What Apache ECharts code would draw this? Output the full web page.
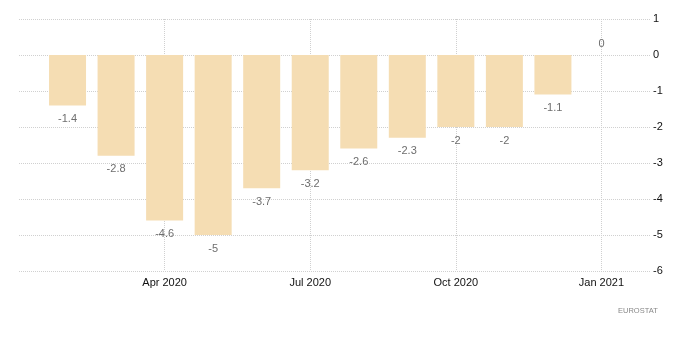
<!DOCTYPE html>
<html>
<head>
<meta charset="utf-8">
<script src="https://cdn.jsdelivr.net/npm/echarts@6/dist/echarts.min.js"></script>
<style>html,body{margin:0;padding:0;background:#fff}#c{width:700px;height:363px}</style>
</head>
<body>
<div id="c"></div>
<script>
const months = ['Jan 2020','Feb 2020','Mar 2020','Apr 2020','May 2020','Jun 2020','Jul 2020','Aug 2020','Sep 2020','Oct 2020','Nov 2020','Dec 2020','Jan 2021','Feb 2021'];
const values = [null, -1.4, -2.8, -4.6, -5, -3.7, -3.2, -2.6, -2.3, -2, -2, -1.1, 0, null];
const tickLabels = ['Apr 2020','Jul 2020','Oct 2020','Jan 2021'];
const yMin = -6, yMax = 1, yStep = 1;
const source = 'EUROSTAT';

const FONT = '"Liberation Sans", Arial, sans-serif';
const chart = echarts.init(document.getElementById('c'), null, {renderer: 'canvas'});
const showTick = (i, v) => tickLabels.indexOf(months[i]) >= 0;
chart.setOption({
  animation: false,
  grid: {left: 19, right: 50, top: 19, bottom: 92},
  xAxis: {
    type: 'category',
    data: months,
    boundaryGap: false,
    axisLine: {show: false},
    axisTick: {show: true, interval: showTick, length: 5, lineStyle: {color: '#d0d0d0', type: 'dotted'}},
    axisLabel: {interval: showTick, color: '#111', fontFamily: FONT, fontSize: 11, margin: 6},
    splitLine: {show: true, interval: showTick, lineStyle: {color: '#d0d0d0', type: 'dotted', width: 1}}
  },
  yAxis: {
    type: 'value',
    position: 'right',
    min: yMin, max: yMax, interval: yStep,
    axisLine: {show: false},
    axisTick: {show: false},
    axisLabel: {color: '#111', fontFamily: FONT, fontSize: 11, margin: 3},
    splitLine: {show: true, lineStyle: {color: '#d0d0d0', type: 'dotted', width: 1}}
  },
  series: [{
    type: 'bar',
    barWidth: 37,
    itemStyle: {color: '#F5DDB3'},
    data: values.map(v => v === null ? null : {
      value: v,
      label: {position: v < 0 ? 'bottom' : 'top', distance: v < 0 ? 8 : 6}
    }),
    label: {show: true, color: '#6e6e6e', fontFamily: FONT, fontSize: 11, formatter: p => String(p.value)}
  }],
  graphic: [{
    type: 'text', left: 618, top: 307,
    style: {text: source, fill: '#888', font: '7.5px ' + FONT}
  }]
});
</script>
</body>
</html>
